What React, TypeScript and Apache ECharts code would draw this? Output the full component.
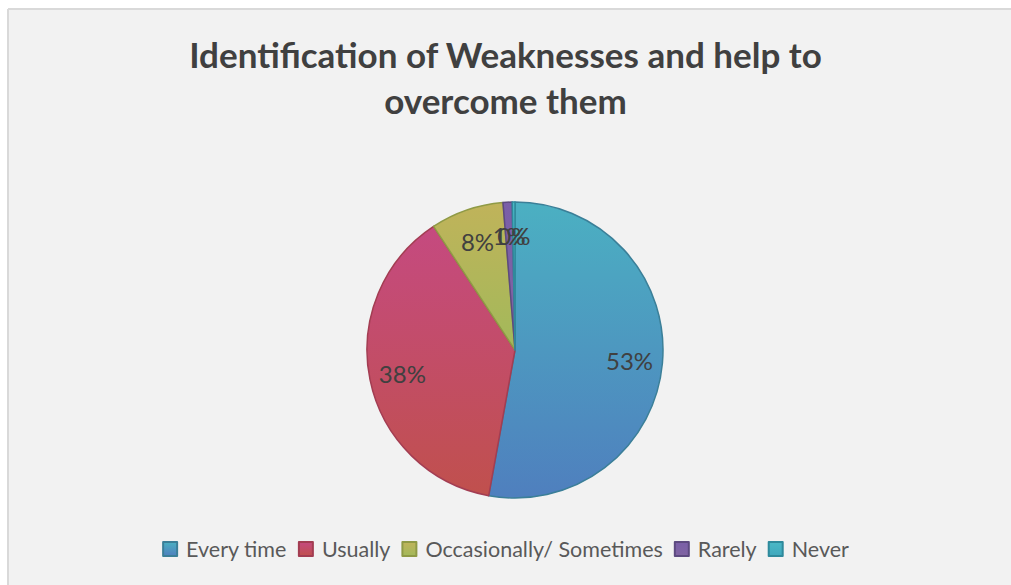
import React, { useEffect, useRef } from "react";
import * as echarts from "echarts";

const titleText = "Identification of Weaknesses and help to\novercome them";
const categories = ["Every time", "Usually", "Occasionally/ Sometimes", "Rarely", "Never"];
const values = [53, 38, 8, 1, 0.3];
const topColors = ["#4bb0c2", "#c54a80", "#c0b35a", "#7a5fa8", "#4bb8c6"];
const bottomColors = ["#4f7fbe", "#c0504d", "#a2b95a", "#8064a2", "#3fa8bd"];
const borderColors = ["#3b7f98", "#a33d52", "#8f9a45", "#5d4a80", "#2f8a9c"];

export default function App() {
  const ref = useRef<HTMLDivElement>(null);
  useEffect(() => {
    const chart = echarts.init(ref.current!, null, { renderer: "svg" });
    const grad = (i: number) => ({
      type: "linear", x: 0, y: 0, x2: 0, y2: 1,
      colorStops: [
        { offset: 0, color: topColors[i] },
        { offset: 1, color: bottomColors[i] },
      ],
    });
    const mainData = categories.map((name, i) => ({
      name,
      value: values[i],
      itemStyle: { color: grad(i), borderColor: borderColors[i], borderWidth: 1.5 },
    }));
    const labelData = categories.map((name, i) => ({ name, value: values[i] }));
    chart.setOption({
      animation: false,
      backgroundColor: "#ffffff",
      graphic: [
        {
          type: "rect",
          shape: { x: 8, y: 9, width: 1100, height: 700 },
          style: { fill: "#f2f2f2" },
          z: -10,
        },
        {
          type: "line",
          shape: { x1: 8, y1: 9, x2: 1011, y2: 9 },
          style: { stroke: "#d9d9d9", lineWidth: 2 },
          z: -9,
        },
        {
          type: "line",
          shape: { x1: 8, y1: 9, x2: 8, y2: 585 },
          style: { stroke: "#d9d9d9", lineWidth: 2 },
          z: -9,
        },
      ],
      title: {
        text: titleText,
        left: "center",
        top: 26,
        textStyle: {
          fontFamily: "Lato",
          fontWeight: "bold",
          fontSize: 35,
          lineHeight: 46,
          color: "#404040",
        },
      },
      legend: {
        data: categories,
        bottom: 20,
        left: "center",
        itemWidth: 14,
        itemHeight: 14,
        itemGap: 11,
        icon: "rect",
        textStyle: { fontFamily: "Lato", fontSize: 21.5, color: "#595959", padding: [0, 0, 0, 4] },
      },
      series: [
        {
          type: "pie",
          center: [515, 350],
          radius: [0, 148],
          startAngle: 90,
          clockwise: true,
          percentPrecision: 0,
          label: { show: false },
          labelLine: { show: false },
          data: mainData,
        },
        {
          type: "pie",
          center: [515, 350],
          radius: [76, 148],
          startAngle: 90,
          clockwise: true,
          silent: true,
          legendHoverLink: false,
          avoidLabelOverlap: false,
          minShowLabelAngle: 0,
          percentPrecision: 0,
          itemStyle: { color: "rgba(0,0,0,0)", borderWidth: 0 },
          label: {
            show: true,
            position: "inside",
            formatter: "{d}%",
            fontFamily: "Lato",
            fontSize: 24,
            color: "#404040",
          },
          labelLayout: { hideOverlap: false },
          labelLine: { show: false },
          data: labelData,
        },
      ],
    });
    return () => chart.dispose();
  }, []);
  return (
    <div
      ref={ref}
      style={{ position: "absolute", left: 0, top: 0, width: 1011, height: 585 }}
    />
  );
}
